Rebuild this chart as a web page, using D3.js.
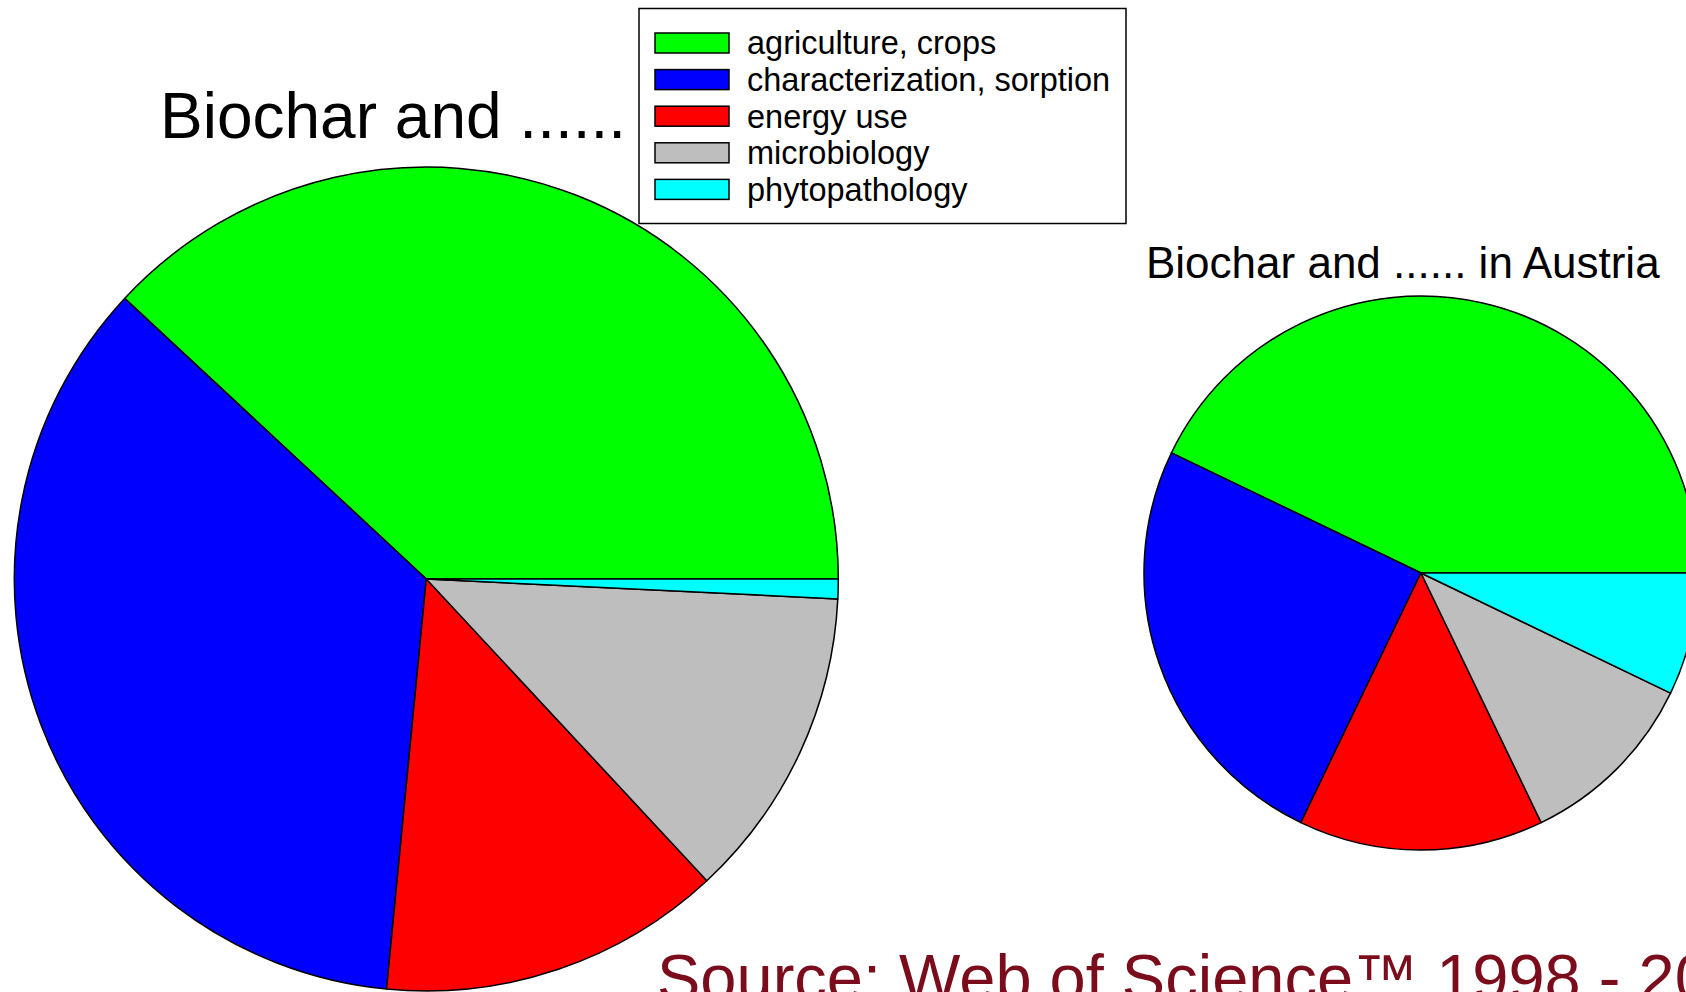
<!DOCTYPE html>
<html>
<head>
<meta charset="utf-8">
<script src="https://cdn.jsdelivr.net/npm/d3@7"></script>
<style>
  html, body { margin: 0; padding: 0; background: #fff; overflow: hidden; }
  svg text { font-family: "Liberation Sans", Arial, Helvetica, sans-serif; }
</style>
</head>
<body>
<script>
// topic categories and pie colours (R style palette)
var categories = ['agriculture, crops', 'characterization, sorption', 'energy use', 'microbiology', 'phytopathology'];
var colors = ['#00ff00', '#0000ff', '#ff0000', '#bebebe', '#00ffff'];

// number of papers per topic
var worldCounts = [99, 92, 35, 32, 2];
var austriaCounts = [12, 7, 4, 3, 2];

var titles = ['Biochar and ......', 'Biochar and ...... in Austria'];
var sourceText = 'Source: Web of Science\u2122 1998 - 2014';

var width = 1686, height = 992;

var svg = d3.select('body').append('svg')
  .attr('width', width)
  .attr('height', height);

// R's pie(): starts at 3 o'clock and runs counter-clockwise
var pie = d3.pie()
  .sort(null)
  .startAngle(Math.PI / 2)
  .endAngle(Math.PI / 2 - 2 * Math.PI);

function drawPie(values, cx, cy, r) {
  var arc = d3.arc().innerRadius(0).outerRadius(r);
  var g = svg.append('g').attr('transform', 'translate(' + cx + ',' + cy + ')');
  g.selectAll('path')
    .data(pie(values))
    .enter()
    .append('path')
    .attr('d', arc)
    .attr('fill', function (d, i) { return colors[i]; })
    .attr('stroke', '#000')
    .attr('stroke-width', 1.5)
    .attr('stroke-linejoin', 'round');
}

// big pie: all records
svg.append('text')
  .attr('x', 160)
  .attr('y', 138)
  .attr('font-size', 64)
  .attr('fill', '#000')
  .text(titles[0]);
drawPie(worldCounts, 426.3, 579, 412);

// small pie: Austria only
svg.append('text')
  .attr('x', 1146)
  .attr('y', 278)
  .attr('font-size', 44)
  .attr('fill', '#000')
  .text(titles[1]);
drawPie(austriaCounts, 1421, 573, 277);

// legend (drawn on top of the big title)
var legend = svg.append('g').attr('transform', 'translate(639,8.5)');
legend.append('rect')
  .attr('width', 487)
  .attr('height', 215)
  .attr('fill', '#fff')
  .attr('stroke', '#000')
  .attr('stroke-width', 1.5);

var rows = legend.selectAll('g.row')
  .data(categories)
  .enter()
  .append('g')
  .attr('class', 'row')
  .attr('transform', function (d, i) { return 'translate(0,' + (34.5 + i * 36.6) + ')'; });

rows.append('rect')
  .attr('x', 16)
  .attr('y', -10)
  .attr('width', 74)
  .attr('height', 20)
  .attr('fill', function (d, i) { return colors[i]; })
  .attr('stroke', '#000')
  .attr('stroke-width', 1.5);

rows.append('text')
  .attr('x', 108)
  .attr('y', 0)
  .attr('dy', '0.35em')
  .attr('font-size', 32.5)
  .attr('fill', '#000')
  .text(function (d) { return d; });

// source line, cut off by the bottom edge
svg.append('text')
  .attr('x', 657)
  .attr('y', 1000)
  .attr('font-size', 65)
  .attr('fill', '#7a0c1c')
  .text(sourceText);
</script>
</body>
</html>
